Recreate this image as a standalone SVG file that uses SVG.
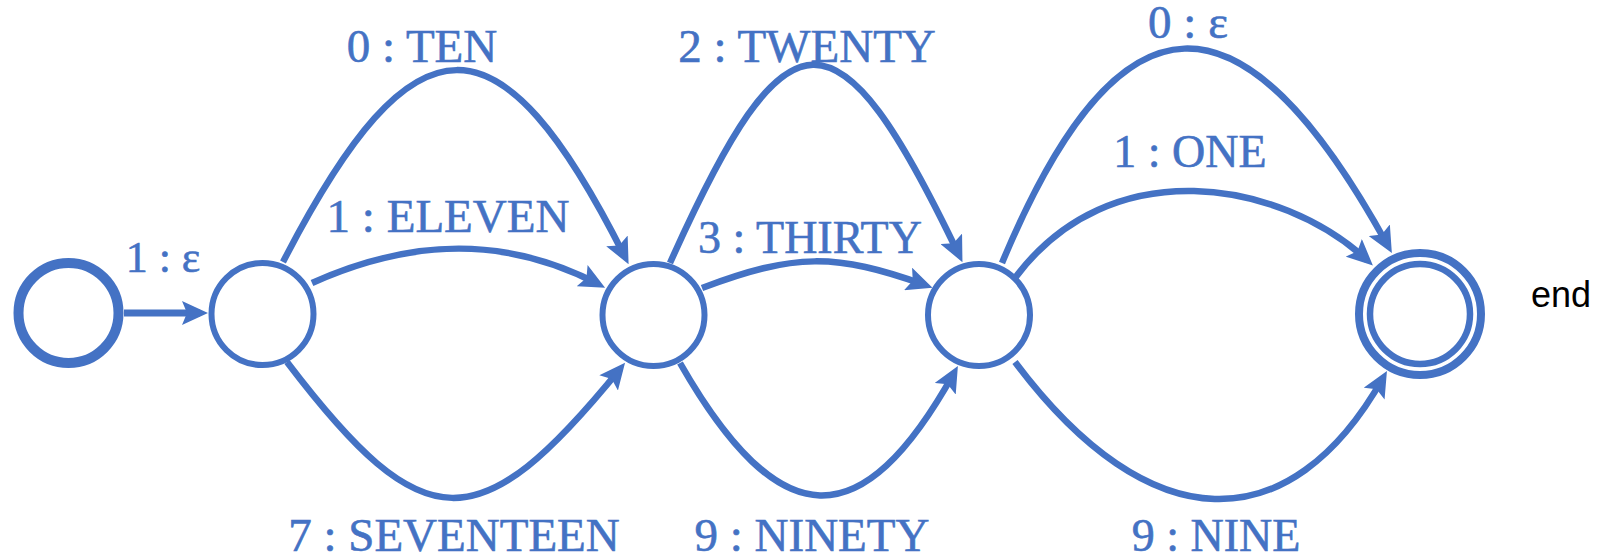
<svg xmlns="http://www.w3.org/2000/svg" width="1604" height="556" viewBox="0 0 1604 556">
  <style>
    .edge { fill: none; stroke: #4472C4; stroke-width: 6.5; marker-end: url(#arr); }
    .node { fill: #ffffff; stroke: #4472C4; stroke-width: 6; }
    .lbl { font-family: "Liberation Serif", "Times New Roman", serif; font-size: 47px; fill: #4472C4; stroke: #4472C4; stroke-width: 0.6; text-anchor: middle; }
    .end { font-family: "Liberation Sans", Arial, sans-serif; font-size: 36px; fill: #000000; }
  </style>
  <defs>
    <marker id="arr" viewBox="0 0 26 24" markerWidth="26" markerHeight="24" refX="18" refY="12" orient="auto" markerUnits="userSpaceOnUse">
      <path d="M0,0 L26,12 L0,24 L5,12 z" fill="#4472C4"/>
    </marker>
  </defs>
  <rect width="1604" height="556" fill="#ffffff"/>

  <g id="connectors">
    <path class="edge" style="stroke-width:7" d="M124 313 L200 313"/>
    <path class="edge" d="M283 262 C415 6 500 8 625 257"/>
    <path class="edge" d="M312 283 C414 237 508 237 598 284"/>
    <path class="edge" d="M287 362 C424 542 479 542 620 369"/>
    <path class="edge" d="M670 263 C788 0 837 0 959 255"/>
    <path class="edge" d="M702 288 C795 253 835 253 925 285"/>
    <path class="edge" d="M680 363 C780 538 862 538 954 373"/>
    <path class="edge" d="M1002 263 C1120 -20 1242 -20 1388 246"/>
    <path class="edge" d="M1015 278 C1110 150 1280 180 1367 260"/>
    <path class="edge" d="M1015 362 C1150 542 1290 542 1383 378"/>
  </g>

  <g id="labels">
    <text class="lbl" x="163" y="272" style="font-size:44px">1 : ε</text>
    <text class="lbl" x="422" y="62">0 : TEN</text>
    <text class="lbl" x="448" y="232">1 : ELEVEN</text>
    <text class="lbl" x="454" y="551">7 : SEVENTEEN</text>
    <text class="lbl" x="807" y="62">2 : TWENTY</text>
    <text class="lbl" x="810" y="253" style="font-size:46px">3 : THIRTY</text>
    <text class="lbl" x="812" y="551">9 : NINETY</text>
    <text class="lbl" x="1188" y="38">0 : ε</text>
    <text class="lbl" x="1190" y="167" style="font-size:46px">1 : ONE</text>
    <text class="lbl" x="1216" y="551" style="font-size:46px">9 : NINE</text>
  </g>

  <g id="n0"><circle class="node" cx="68.5" cy="313" r="50" style="stroke-width:10"/></g>
  <g id="n1"><circle class="node" cx="262.5" cy="314" r="51"/></g>
  <g id="n2"><circle class="node" cx="653.5" cy="315" r="51"/></g>
  <g id="n3"><circle class="node" cx="979" cy="315" r="51"/></g>
  <g id="n4">
    <circle class="node" cx="1420" cy="314" r="61" style="stroke-width:8"/>
    <circle class="node" cx="1420" cy="314" r="50" style="stroke-width:6.5"/>
  </g>
  <g id="end-label"><text class="end" x="1531" y="307">end</text></g>
</svg>
